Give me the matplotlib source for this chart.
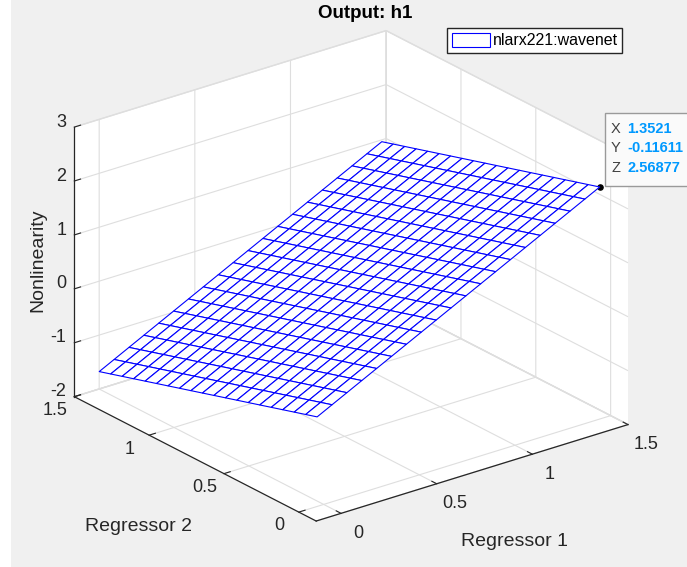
import numpy as np
import matplotlib.pyplot as plt
from matplotlib.patches import Rectangle

# regressor sample grid (20 samples per regressor)
reg1_range = [-0.125, 1.3521]
reg2_range = [-0.11611, 1.34]
n_samples = 20

# wavenet nonlinearity over this range is a flat plane
offset = 0.05117
slope_reg1 = 1.789
slope_reg2 = -0.85

x_ticks = [0, 0.5, 1, 1.5]
y_ticks = [0, 0.5, 1, 1.5]
z_ticks = [-2, -1, 0, 1, 2, 3]
x_lim = (-0.13, 1.5)
y_lim = (-0.11611, 1.5)
z_lim = (-2, 3)

plt.rcParams['font.family'] = ['Liberation Sans', 'DejaVu Sans']
plt.rcParams['grid.color'] = '#dedede'
plt.rcParams['grid.linewidth'] = 0.8
txt_col = '#262626'

W, H = 687, 567
fig = plt.figure(figsize=(W / 100, H / 100), dpi=100, facecolor='white')
fig.patches.append(Rectangle((11 / W, 0), 1, 1, transform=fig.transFigure,
                             facecolor='#f0f0f0', edgecolor='none', zorder=-10))

ax = fig.add_axes([0.0, 0.0, 1.0, 1.0], projection='3d')
ax.set_facecolor('none')
ax.set_proj_type('ortho')
ax.view_init(elev=23.5, azim=-127.8)
ax.set_box_aspect((1, 1, 0.745), zoom=1.08)

r1 = np.linspace(reg1_range[0], reg1_range[1], n_samples)
r2 = np.linspace(reg2_range[0], reg2_range[1], n_samples)
R1, R2 = np.meshgrid(r1, r2)
Z = offset + slope_reg1 * R1 + slope_reg2 * R2

ax.plot_surface(R1, R2, Z, color='white', edgecolor='#0000ff', linewidth=0.8,
                shade=False, rstride=1, cstride=1, label='nlarx221:wavenet')

ax.set_xlim(*x_lim)
ax.set_ylim(*y_lim)
ax.set_zlim(*z_lim)
ax.set_xticks(x_ticks)
ax.set_yticks(y_ticks)
ax.set_zticks(z_ticks)
ax.set_xticklabels([f'{t:g}' for t in x_ticks], va='bottom')
ax.set_yticklabels([f'{t:g}' for t in y_ticks], va='bottom')
ax.set_zticklabels([f'{t:g}' for t in z_ticks], ha='right', va='baseline')
ax.tick_params(labelsize=13, colors=txt_col)
ax.tick_params(axis='x', pad=7.5)
ax.tick_params(axis='y', pad=5)
ax.tick_params(axis='z', pad=-5)

for axis in (ax.xaxis, ax.yaxis, ax.zaxis):
    axis.set_pane_color((1, 1, 1, 1))
    axis.pane.set_edgecolor('#dedede')
    axis.line.set_color(txt_col)
    axis.line.set_linewidth(0.9)
    axis._axinfo['tick']['inward_factor'] = 0.0
    axis._axinfo['tick']['outward_factor'] = 0.25
    axis.set_rotate_label(False)

ax.set_xlabel('Regressor 1', fontsize=14, color=txt_col, labelpad=16)
ax.set_ylabel('Regressor 2', fontsize=14, color=txt_col, labelpad=18)
ax.set_zlabel('Nonlinearity', fontsize=14, color=txt_col, rotation=90, labelpad=-7)

fig.suptitle('Output: h1', x=365 / W, y=1 - 5 / H, fontsize=13.5, fontweight='bold', color='black')

ax.legend(loc='upper left', bbox_to_anchor=(447 / W, 1 - 28 / H), bbox_transform=fig.transFigure,
          fontsize=11.5, frameon=True, fancybox=False, edgecolor=txt_col, framealpha=1,
          borderpad=0.3, handlelength=2.4, handleheight=0.95, handletextpad=0.15, borderaxespad=0)

# data tip on the surface corner
tip_x, tip_y, tip_z = R1[0, -1], R2[0, -1], Z[0, -1]
ax.scatter([tip_x], [tip_y], [tip_z], color='black', s=14, depthshade=False, zorder=10)

fig.patches.append(Rectangle((605 / W, 1 - 186 / H), 100 / W, 73 / H, transform=fig.transFigure,
                             facecolor='#fafafa', edgecolor='#9a9a9a', linewidth=1.0, zorder=20))
for i, (name, val) in enumerate(zip('XYZ', (tip_x, tip_y, tip_z))):
    yy = 1 - (129 + 19.5 * i) / H
    fig.text(611 / W, yy, name, fontsize=10.5, color='#404040', va='center', zorder=21)
    fig.text(627 / W, yy, f'{val:.6g}', fontsize=10.5, color='#0099ff', fontweight='bold',
             va='center', zorder=21)

fig.savefig('out.png', dpi=100, facecolor=fig.get_facecolor())
